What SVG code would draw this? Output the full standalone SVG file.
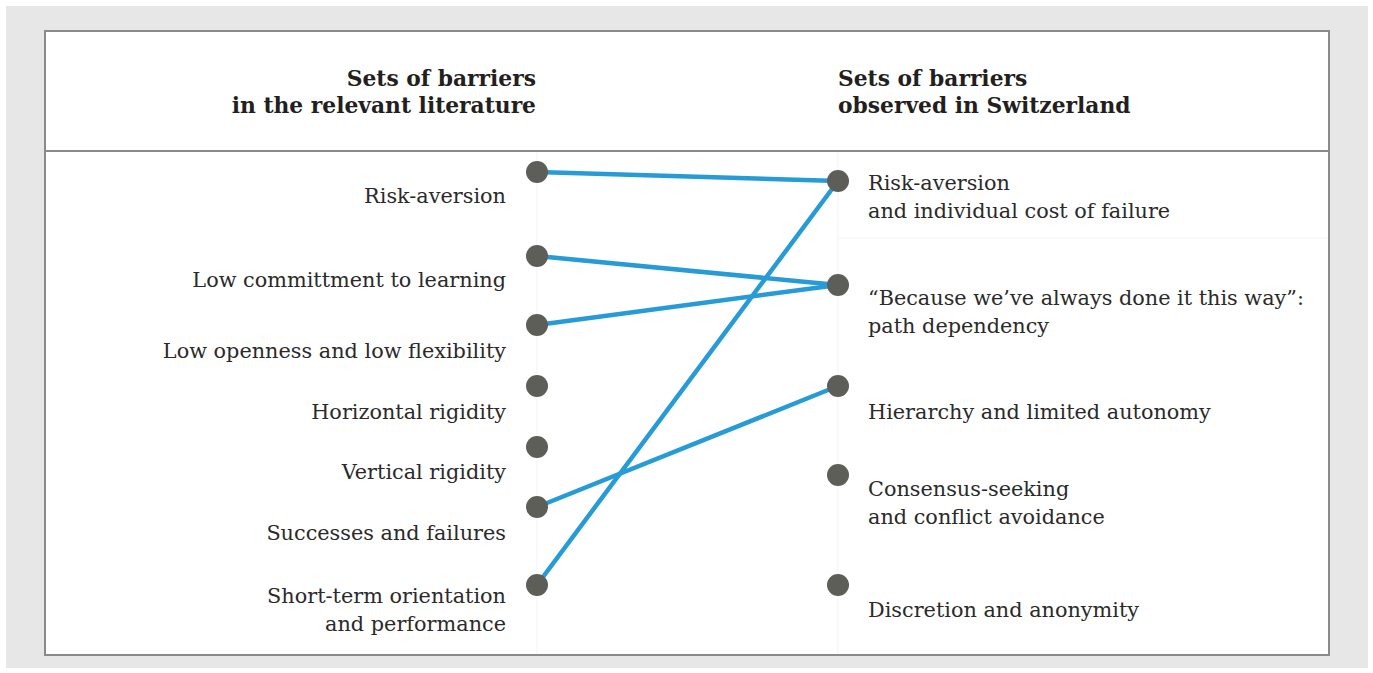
<svg xmlns="http://www.w3.org/2000/svg" width="1373" height="673" viewBox="0 0 1373 673">
  <style>
    .lbl { font-family: "DejaVu Serif", "Liberation Serif", serif; font-size: 20.8px; fill: #2b2a29; }
    .hdr { font-family: "DejaVu Serif", "Liberation Serif", serif; font-size: 21.8px; font-weight: bold; fill: #231f20; }
    .l { text-anchor: end; }
    .dot { fill: #5e5e59; }
    .link { stroke: #279bd6; stroke-width: 4.5; fill: none; stroke-linecap: round; }
    .guide { stroke: #f3f3f3; stroke-width: 1; }
  </style>
  <!-- page background and panel -->
  <rect x="0" y="0" width="1373" height="673" fill="#ffffff"/>
  <rect x="6" y="6" width="1362" height="662" fill="#e7e7e7"/>
  <rect x="45" y="31" width="1284" height="624" fill="#ffffff" stroke="#8a8a8a" stroke-width="2"/>
  <line x1="45" y1="151" x2="1329" y2="151" stroke="#8a8a8a" stroke-width="2"/>
  <!-- faint column guides -->
  <g id="guides">
    <line class="guide" x1="537" y1="152" x2="537" y2="654"/>
    <line class="guide" x1="838" y1="152" x2="838" y2="654"/>
    <line class="guide" x1="838" y1="238" x2="1328" y2="238"/>
  </g>
  <!-- column headers -->
  <g id="header-left">
    <text class="hdr l" x="536" y="86">Sets of barriers</text>
    <text class="hdr l" x="536" y="113">in the relevant literature</text>
  </g>
  <g id="header-right">
    <text class="hdr" x="838" y="86">Sets of barriers</text>
    <text class="hdr" x="838" y="113">observed in Switzerland</text>
  </g>
  <!-- connectors -->
  <g id="connectors">
    <line class="link" x1="537" y1="172" x2="838" y2="181"/>
    <line class="link" x1="537" y1="256" x2="838" y2="285"/>
    <line class="link" x1="537" y1="325" x2="838" y2="285"/>
    <line class="link" x1="537" y1="507" x2="838" y2="386"/>
    <line class="link" x1="537" y1="585" x2="838" y2="181"/>
  </g>
  <!-- left nodes -->
  <g id="left-risk-aversion">
    <circle class="dot" cx="537" cy="172" r="11"/>
    <text class="lbl l" x="506" y="203">Risk-aversion</text>
  </g>
  <g id="left-commitment">
    <circle class="dot" cx="537" cy="256" r="11"/>
    <text class="lbl l" x="506" y="287">Low committment to learning</text>
  </g>
  <g id="left-openness">
    <circle class="dot" cx="537" cy="325" r="11"/>
    <text class="lbl l" x="506" y="358">Low openness and low flexibility</text>
  </g>
  <g id="left-horizontal">
    <circle class="dot" cx="537" cy="386" r="11"/>
    <text class="lbl l" x="506" y="419">Horizontal rigidity</text>
  </g>
  <g id="left-vertical">
    <circle class="dot" cx="537" cy="447" r="11"/>
    <text class="lbl l" x="506" y="479">Vertical rigidity</text>
  </g>
  <g id="left-successes">
    <circle class="dot" cx="537" cy="507" r="11"/>
    <text class="lbl l" x="506" y="540">Successes and failures</text>
  </g>
  <g id="left-short-term">
    <circle class="dot" cx="537" cy="585" r="11"/>
    <text class="lbl l" x="506" y="603">Short-term orientation</text>
    <text class="lbl l" x="506" y="631">and performance</text>
  </g>
  <!-- right nodes -->
  <g id="right-risk-aversion">
    <circle class="dot" cx="838" cy="181" r="11"/>
    <text class="lbl" x="868" y="190">Risk-aversion</text>
    <text class="lbl" x="868" y="218">and individual cost of failure</text>
  </g>
  <g id="right-path-dependency">
    <circle class="dot" cx="838" cy="285" r="11"/>
    <text class="lbl" x="868" y="305">“Because we’ve always done it this way”:</text>
    <text class="lbl" x="868" y="333">path dependency</text>
  </g>
  <g id="right-hierarchy">
    <circle class="dot" cx="838" cy="386" r="11"/>
    <text class="lbl" x="868" y="419">Hierarchy and limited autonomy</text>
  </g>
  <g id="right-consensus">
    <circle class="dot" cx="838" cy="475" r="11"/>
    <text class="lbl" x="868" y="496">Consensus-seeking</text>
    <text class="lbl" x="868" y="524">and conflict avoidance</text>
  </g>
  <g id="right-discretion">
    <circle class="dot" cx="838" cy="585" r="11"/>
    <text class="lbl" x="868" y="617">Discretion and anonymity</text>
  </g>
</svg>
